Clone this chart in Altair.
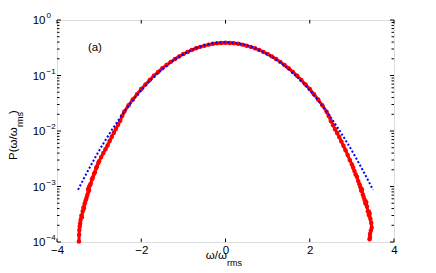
import altair as alt
import pandas as pd

W, H = 337, 222
FONT = "Liberation Sans"

# ---- red measured PDF (walking order, left tail -> core -> right tail) ----
red_x = [-3.48, -3.475, -3.47, -3.46, -3.45, -3.44, -3.42, -3.41, -3.39, -3.37,
         -3.36, -3.34, -3.32, -3.30, -3.28, -3.26, -3.24, -3.22, -3.20, -3.17,
         -3.15, -3.12, -3.10, -3.07, -3.05, -3.02, -3.00, -2.95, -2.90, -2.85,
         -2.80, -2.75, -2.70, -2.65, -2.60, -2.55, -2.50, -2.45, -2.40, -2.30,
         -2.20, -2.10, -2.00, -1.90, -1.80, -1.70, -1.60, -1.50, -1.40, -1.30,
         -1.20, -1.10, -1.00, -0.90, -0.80, -0.70, -0.60, -0.50, -0.40, -0.30,
         -0.20, -0.10, 0.00, 0.10, 0.20, 0.30, 0.40, 0.50, 0.60, 0.70,
         0.80, 0.90, 1.00, 1.10, 1.20, 1.30, 1.40, 1.50, 1.60, 1.70,
         1.80, 1.90, 2.00, 2.10, 2.20, 2.30, 2.40, 2.45, 2.50, 2.55,
         2.60, 2.65, 2.70, 2.75, 2.80, 2.85, 2.90, 2.95, 3.00, 3.03,
         3.06, 3.09, 3.12, 3.15, 3.18, 3.20, 3.22, 3.24, 3.26, 3.28,
         3.30, 3.32, 3.34, 3.36, 3.38, 3.40, 3.42, 3.44, 3.46, 3.47,
         3.45, 3.43, 3.43, 3.42]
red_p = [0.000102, 0.000135, 0.000165, 0.000190, 0.000215, 0.000250, 0.000300, 0.000280, 0.000360, 0.000420,
         0.000400, 0.000500, 0.000560, 0.000620, 0.000700, 0.000900, 0.000850, 0.00105, 0.00112, 0.00135,
         0.00145, 0.00170, 0.00180, 0.00215, 0.00230, 0.00265, 0.00285, 0.00340, 0.00400, 0.00470,
         0.00550, 0.00660, 0.00790, 0.00930, 0.0110, 0.0130, 0.0153, 0.0188, 0.0224, 0.0292,
         0.0370, 0.0462, 0.0572, 0.0690, 0.0832, 0.0990, 0.1160, 0.1350, 0.1550, 0.1760,
         0.1980, 0.2210, 0.2440, 0.2660, 0.2880, 0.3090, 0.3280, 0.3450, 0.3600, 0.3720,
         0.3810, 0.3860, 0.3880, 0.3860, 0.3810, 0.3720, 0.3600, 0.3450, 0.3280, 0.3090,
         0.2880, 0.2660, 0.2440, 0.2210, 0.1980, 0.1760, 0.1550, 0.1350, 0.1160, 0.0990,
         0.0830, 0.0690, 0.0570, 0.0460, 0.0368, 0.0290, 0.0222, 0.0187, 0.0152, 0.0128,
         0.0108, 0.0092, 0.0078, 0.0065, 0.0054, 0.0045, 0.0037, 0.0030, 0.0025, 0.0022,
         0.0019, 0.00165, 0.00150, 0.00125, 0.00110, 0.00098, 0.00085, 0.00088, 0.00072, 0.00065,
         0.00058, 0.00050, 0.00052, 0.00043, 0.00036, 0.00031, 0.00033, 0.00026, 0.00022, 0.00018,
         0.00016, 0.00014, 0.000122, 0.000112]

# ---- blue dotted Gaussian reference ----
gauss_x = [-3.5, -3.3, -3.1, -2.9, -2.7, -2.5, -2.3, -2.1, -1.9, -1.7, -1.5, -1.3,
           -1.1, -0.9, -0.7, -0.5, -0.3, -0.1, 0.1, 0.3, 0.5, 0.7, 0.9, 1.1,
           1.3, 1.5, 1.7, 1.9, 2.1, 2.3, 2.5, 2.7, 2.9, 3.1, 3.3, 3.5]
gauss_p = [0.000873, 0.00172, 0.00327, 0.00595, 0.0104, 0.0175, 0.0283, 0.0440, 0.0656, 0.0940, 0.1295, 0.1714,
           0.2179, 0.2661, 0.3123, 0.3521, 0.3814, 0.3970, 0.3970, 0.3814, 0.3521, 0.3123, 0.2661, 0.2179,
           0.1714, 0.1295, 0.0940, 0.0656, 0.0440, 0.0283, 0.0175, 0.0104, 0.00595, 0.00327, 0.00172, 0.000873]

x_ticks = [-4, -2, 0, 2, 4]
y_major = [1e-4, 1e-3, 1e-2, 1e-1, 1.0]
y_exp = ["\u22124", "\u22123", "\u22122", "\u22121", "0"]
y_minor = [m * d for d in [1e-4, 1e-3, 1e-2, 1e-1] for m in range(2, 10)]

xs = alt.Scale(domain=[-4, 4], nice=False, zero=False)
ys = alt.Scale(type="log", domain=[1e-4, 1], nice=False)
x_axis = alt.Axis(values=x_ticks, ticks=False, domain=False, grid=False, title=None,
                  labelFont=FONT, labelFontSize=11.5, labelColor="black", labelPadding=2,
                  labelFlush=False)

red_df = pd.DataFrame({"x": red_x, "p": red_p, "i": list(range(len(red_x)))})
gauss_df = pd.DataFrame({"x": gauss_x, "p": gauss_p})

red = alt.Chart(red_df).mark_line(
    color="#ff0000", strokeWidth=3,
    point=alt.OverlayMarkDef(filled=True, size=20, color="#ff0000")
).encode(
    x=alt.X("x:Q", scale=xs, axis=x_axis),
    y=alt.Y("p:Q", scale=ys, axis=None),
    order="i:Q",
)

gauss = alt.Chart(gauss_df).mark_line(
    color="#0000ff", strokeWidth=2, strokeDash=[2, 2]
).encode(
    x=alt.X("x:Q", scale=xs, axis=x_axis),
    y=alt.Y("p:Q", scale=ys, axis=None),
)

major_df = pd.DataFrame({"v": y_major, "e": y_exp, "t": ["10"] * len(y_major)})
minor_df = pd.DataFrame({"v": y_minor})
xt_df = pd.DataFrame({"x": x_ticks})

def yticks(df, x0, x1):
    return alt.Chart(df).mark_rule(color="black", strokeWidth=1).encode(
        y=alt.Y("v:Q", scale=ys, axis=None), x=alt.value(x0), x2=alt.value(x1))

def xticks(y0, y1):
    return alt.Chart(xt_df).mark_rule(color="black", strokeWidth=1).encode(
        x=alt.X("x:Q", scale=xs, axis=x_axis), y=alt.value(y0), y2=alt.value(y1))

ticks = [
    yticks(major_df, 0, 4), yticks(major_df, W - 4, W),
    yticks(minor_df, 0, 2.5), yticks(minor_df, W - 2.5, W),
    xticks(H, H - 3.5), xticks(0, 3.5),
]

ylab10 = alt.Chart(major_df).mark_text(
    align="right", baseline="middle", fontSize=11.5, font=FONT, color="black", dy=1
).encode(y=alt.Y("v:Q", scale=ys, axis=None), x=alt.value(-11.5), text="t:N")
ylabexp = alt.Chart(major_df).mark_text(
    align="left", baseline="middle", fontSize=8, font=FONT, color="black", dy=-4
).encode(y=alt.Y("v:Q", scale=ys, axis=None), x=alt.value(-10.5), text="e:N")

panel = alt.Chart(pd.DataFrame({"x": [-3.1], "p": [0.31], "t": ["(a)"]})).mark_text(
    align="center", baseline="middle", fontSize=11.5, font=FONT, color="black"
).encode(x=alt.X("x:Q", scale=xs, axis=x_axis), y=alt.Y("p:Q", scale=ys, axis=None), text="t:N")

def label(txt, x, y, size, align="left", baseline="alphabetic", angle=0):
    kw = dict(align=align, baseline=baseline, fontSize=size, font=FONT, color="black")
    if angle:
        kw["angle"] = angle
    return alt.Chart(pd.DataFrame({"t": [txt]})).mark_text(**kw).encode(
        x=alt.value(x), y=alt.value(y), text="t:N")

titles = [
    label("\u03c9/\u03c9", 170, 239, 11.5, align="right"),
    label("rms", 170, 246, 9, align="left"),
    label("P(\u03c9/\u03c9", -43, 140, 11.5, align="left", baseline="middle", angle=270),
    label("rms", -37.5, 107, 9, align="left", baseline="middle", angle=270),
    label(")", -43, 94, 11.5, align="left", baseline="middle", angle=270),
]

chart = alt.layer(red, gauss, *ticks, ylab10, ylabexp, panel, *titles).properties(
    width=W, height=H,
    autosize=alt.AutoSizeParams(type="none"),
    padding={"left": 49, "top": 12, "right": 30, "bottom": 30},
).configure_view(stroke="black", strokeWidth=1).configure(background="white")

chart.save("out.html", embed_options={"renderer": "svg", "actions": False})
